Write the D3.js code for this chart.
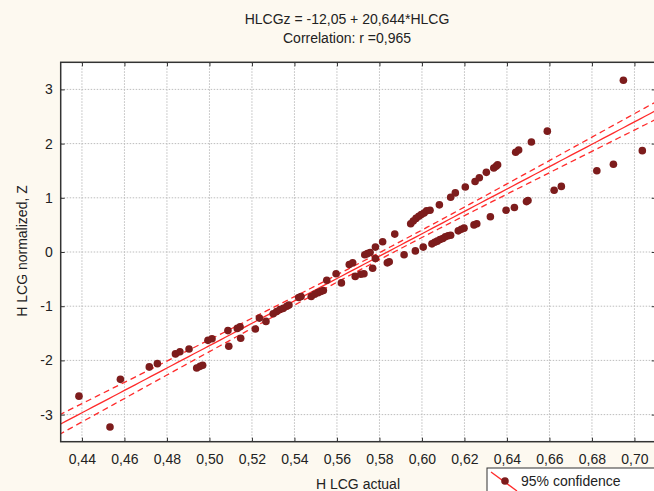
<!DOCTYPE html>
<html><head><meta charset="utf-8">
<script src="https://cdn.jsdelivr.net/npm/d3@7"></script>
<style>body{margin:0;background:#fdf9f0;}svg{display:block;font-family:"Liberation Sans",Arial,sans-serif;}</style>
</head><body>
<script>
// ---- data ----
const hlcgActual = [0.4386,0.4532,0.4581,0.4717,0.4755,0.4840,0.4861,0.4904,0.4940,0.4956,0.4968,0.4993,0.5012,0.5087,0.5091,0.5131,0.5144,0.5147,0.5216,0.5235,0.5266,0.5300,0.5316,0.5332,0.5348,0.5364,0.5374,0.5420,0.5431,0.5479,0.5495,0.5511,0.5524,0.5536,0.5552,0.5596,0.5621,0.5658,0.5674,0.5686,0.5712,0.5727,0.5731,0.5743,0.5756,0.5768,0.5781,0.5781,0.5815,0.5837,0.5846,0.5872,0.5916,0.5947,0.5959,0.5969,0.5972,0.5985,0.5997,0.6006,0.6010,0.6022,0.6038,0.6047,0.6060,0.6072,0.6082,0.6085,0.6098,0.6110,0.6123,0.6135,0.6135,0.6157,0.6171,0.6185,0.6198,0.6204,0.6245,0.6258,0.6250,0.6270,0.6303,0.6322,0.6338,0.6349,0.6356,0.6396,0.6435,0.6441,0.6455,0.6492,0.6499,0.6515,0.6590,0.6622,0.6656,0.6823,0.6901,0.6948,0.7037];
const hlcgZ = [-2.66,-3.23,-2.35,-2.12,-2.06,-1.88,-1.84,-1.79,-2.14,-2.11,-2.09,-1.63,-1.60,-1.45,-1.74,-1.41,-1.38,-1.59,-1.42,-1.22,-1.28,-1.14,-1.10,-1.06,-1.04,-1.00,-0.98,-0.84,-0.82,-0.82,-0.78,-0.75,-0.73,-0.71,-0.52,-0.40,-0.57,-0.23,-0.20,-0.45,-0.41,-0.40,-0.05,-0.03,-0.01,-0.30,-0.12,0.09,0.19,-0.20,-0.18,0.33,-0.05,0.52,0.57,0.02,0.62,0.66,0.69,0.09,0.72,0.76,0.77,0.15,0.18,0.20,0.87,0.23,0.25,0.28,0.30,0.31,1.01,1.09,0.39,0.42,0.44,1.20,0.50,0.52,1.30,1.37,1.47,0.65,1.55,1.58,1.61,0.77,0.82,1.84,1.88,0.93,0.95,2.03,2.23,1.14,1.21,1.50,1.62,3.17,1.87];
const intercept = -12.05, slope = 20.644;
const xTicks = [0.44,0.46,0.48,0.50,0.52,0.54,0.56,0.58,0.60,0.62,0.64,0.66,0.68,0.70];
const yTicks = [-3,-2,-1,0,1,2,3];
const titleLines = ["HLCGz = -12,05 + 20,644*HLCG","Correlation: r =0,965"];
const xLabel = "H LCG actual", yLabel = "H LCG normalized, Z", legendLabel = "95% confidence";

// ---- layout ----
const W=654,H=491;
const L=60.7,R=655.7,T=62.3,B=441.7;
const x=d3.scaleLinear().domain([0.43,0.71]).range([L,R]);
const y=d3.scaleLinear().domain([-3.5,3.5]).range([B,T]);
const svg=d3.select("body").append("svg").attr("width",W).attr("height",H);
svg.append("rect").attr("width",W).attr("height",H).attr("fill","#fdf9f0");
svg.append("rect").attr("x",L).attr("y",T).attr("width",R-L).attr("height",B-T).attr("fill","#ffffff");
svg.append("clipPath").attr("id","c").append("rect").attr("x",L).attr("y",T).attr("width",R-L).attr("height",B-T);

const fmt=d=>d3.format(".2f")(d).replace(".",",");
// grid
const g=svg.append("g");
g.selectAll(".gx").data(xTicks).join("line").attr("x1",d=>x(d)).attr("x2",d=>x(d)).attr("y1",T).attr("y2",B)
 .attr("stroke","#bdbdbd").attr("stroke-dasharray","1.5,1.5");
g.selectAll(".gy").data(yTicks).join("line").attr("y1",d=>y(d)).attr("y2",d=>y(d)).attr("x1",L).attr("x2",R)
 .attr("stroke","#bdbdbd").attr("stroke-dasharray","1.5,1.5");

// axes (inward ticks)
const axB=svg.append("g").attr("transform",`translate(0,${B})`).call(d3.axisBottom(x).tickValues(xTicks).tickFormat(fmt).tickSizeInner(-4).tickSizeOuter(0).tickPadding(12));
const axT=svg.append("g").attr("transform",`translate(0,${T})`).call(d3.axisTop(x).tickValues(xTicks).tickFormat("").tickSizeInner(-4).tickSizeOuter(0));
const axL=svg.append("g").attr("transform",`translate(${L},0)`).call(d3.axisLeft(y).tickValues(yTicks).tickFormat(d3.format("d")).tickSizeInner(-4).tickSizeOuter(0).tickPadding(8));
const axR=svg.append("g").attr("transform",`translate(${R},0)`).call(d3.axisRight(y).tickValues(yTicks).tickFormat("").tickSizeInner(-4).tickSizeOuter(0));
[axB,axT,axL,axR].forEach(a=>{a.select(".domain").remove();a.selectAll("line").attr("stroke","#333");a.selectAll("text").attr("fill","#222").style("font-size","14px").style("font-family","'Liberation Sans',Arial,sans-serif");});
axL.selectAll("text").text(d=>d<0?"-"+Math.abs(d):d);

// regression + confidence
const n=hlcgActual.length;
const xm=d3.mean(hlcgActual);
const sxx=d3.sum(hlcgActual,v=>(v-xm)*(v-xm));
const s=Math.sqrt(d3.sum(hlcgActual.map((v,i)=>Math.pow(hlcgZ[i]-(intercept+slope*v),2)))/(n-2));
const tval=1.984;
const xs=d3.range(0.425,0.7151,0.0025);
const fit=v=>intercept+slope*v;
const hw=v=>tval*s*Math.sqrt(1/n+(v-xm)*(v-xm)/sxx);
const line=d3.line().x(d=>x(d[0])).y(d=>y(d[1]));
const pg=svg.append("g").attr("clip-path","url(#c)");
pg.append("path").attr("d",line(xs.map(v=>[v,fit(v)]))).attr("fill","none").attr("stroke","#ff2b2b").attr("stroke-width",1.3);
pg.append("path").attr("d",line(xs.map(v=>[v,fit(v)+hw(v)]))).attr("fill","none").attr("stroke","#ff2b2b").attr("stroke-width",1.3).attr("stroke-dasharray","6,4");
pg.append("path").attr("d",line(xs.map(v=>[v,fit(v)-hw(v)]))).attr("fill","none").attr("stroke","#ff2b2b").attr("stroke-width",1.3).attr("stroke-dasharray","6,4");
pg.selectAll("circle").data(hlcgActual).join("circle").attr("cx",d=>x(d)).attr("cy",(d,i)=>y(hlcgZ[i])).attr("r",3.8).attr("fill","#7d1c1c");

// frame
svg.append("rect").attr("x",L).attr("y",T).attr("width",R-L).attr("height",B-T).attr("fill","none").attr("stroke","#333").attr("stroke-width",1.5);

// titles
const tt=svg.append("g").attr("font-size","14px").attr("fill","#222").attr("text-anchor","middle");
tt.append("text").attr("x",347).attr("y",24).text(titleLines[0]);
tt.append("text").attr("x",347).attr("y",43).text(titleLines[1]);
svg.append("text").attr("x",358).attr("y",489).attr("text-anchor","middle").attr("font-size","14px").attr("fill","#222").text(xLabel);
svg.append("text").attr("transform","translate(27,251) rotate(-90)").attr("text-anchor","middle").attr("font-size","14px").attr("fill","#222").text(yLabel);

// legend
const lg=svg.append("g");
lg.append("rect").attr("x",487).attr("y",468).attr("width",180).attr("height",40).attr("fill","#ffffff").attr("stroke","#333").attr("stroke-width",1);
lg.append("line").attr("x1",491).attr("y1",472).attr("x2",517).attr("y2",491).attr("stroke","#ff2b2b").attr("stroke-width",1.3);
lg.append("circle").attr("cx",505).attr("cy",481).attr("r",3.8).attr("fill","#7d1c1c");
lg.append("text").attr("x",521).attr("y",486).attr("font-size","14px").attr("fill","#222").text(legendLabel);
</script>
</body></html>
